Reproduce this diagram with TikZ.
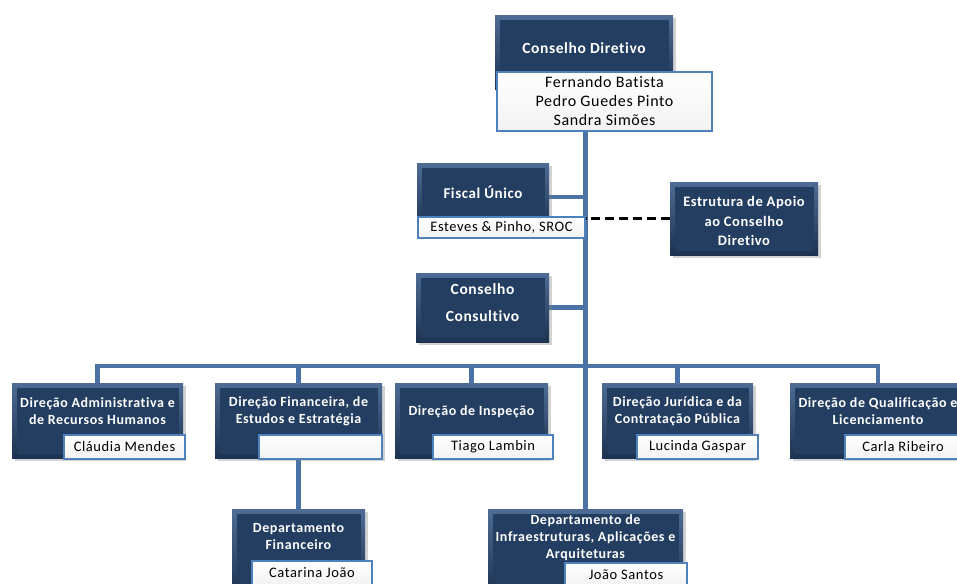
\documentclass[tikz,border=0pt]{standalone}
\usepackage{fontspec}
\setmainfont{Carlito}[LetterSpace=4,Ligatures=CommonOff]
\usetikzlibrary{shadows,backgrounds}
\definecolor{boxdark}{RGB}{35,62,96}
\definecolor{bevtop}{RGB}{78,108,148}
\definecolor{bevbot}{RGB}{28,50,80}
\definecolor{linkblue}{RGB}{74,114,166}
\definecolor{nameborder}{RGB}{79,129,189}
\tikzset{
  dbox/.style={rectangle, inner sep=0pt, draw=none, top color=bevtop, bottom color=bevbot,
    drop shadow={shadow xshift=2.5pt, shadow yshift=-2.5pt, opacity=.35},
    path picture={\fill[boxdark] ([shift={(4.5pt,4.5pt)}]path picture bounding box.south west)
      rectangle ([shift={(-4.5pt,-4.5pt)}]path picture bounding box.north east);}},
  dtext/.style={inner sep=0pt, text=white, align=center, font=\bfseries\fontsize{14}{17}\selectfont},
  nbox/.style={rectangle, inner sep=0pt, draw=nameborder, line width=1.3pt,
    top color=white, bottom color=gray!10, text=black, align=center,
    font=\fontsize{14.5}{19}\selectfont},
  link/.style={draw=linkblue, line width=4.5pt},
  dashlink/.style={draw=black, line width=3.5pt, dash pattern=on 9pt off 5pt}
}
\newcommand\orgbox[8]{%
  \node[dbox, minimum width={(#4-#2)*1pt}, minimum height={(#5-#3)*1pt}] (#1) at ({(#2+#4)/2},{(#3+#5)/2}) {};
  \node[dtext,#7] (#1-t) at ({(#2+#4)/2},#6) {#8};}
\newcommand\namebox[7]{%
  \node[nbox, minimum width={(#4-#2)*1pt}, minimum height={(#5-#3)*1pt},#6] (#1) at ({(#2+#4)/2},{(#3+#5)/2}) {#7};}
\begin{document}
\begin{tikzpicture}[x=1pt,y=-1pt]
\useasboundingbox (0,0) rectangle (957,583);
% top
\orgbox{cd}{495}{16}{673}{90}{48}{font=\bfseries\fontsize{15.5}{19}\selectfont}{Conselho Diretivo}
\namebox{cdn}{497}{72}{712}{131}{font=\fontsize{16}{19}\selectfont}{Fernando Batista\\Pedro Guedes Pinto\\Sandra Simões}
% fiscal
\orgbox{fiscal}{417}{163}{549}{231}{192}{font=\bfseries\fontsize{15}{19}\selectfont}{Fiscal Único}
\namebox{fiscaln}{418}{217}{585}{238}{}{Esteves \& Pinho, SROC}
% estrutura
\orgbox{estr}{670}{182}{818}{255}{221}{font=\bfseries\fontsize{14.5}{19.5}\selectfont}{Estrutura de Apoio\\ao Conselho\\Diretivo}
% consultivo
\orgbox{cons}{416}{273}{549}{342}{303}{font=\bfseries\fontsize{15.5}{27}\selectfont}{Conselho\\Consultivo}
% directions
\orgbox{d1}{12}{383}{183}{458}{411}{}{Direção Administrativa e\\de Recursos Humanos}
\namebox{d1n}{64}{435}{185}{459}{}{Cláudia Mendes}
\orgbox{d2}{215}{383}{382}{458}{411}{}{Direção Financeira, de\\Estudos e Estratégia}
\namebox{d2n}{259}{435}{382}{459}{}{}
\orgbox{d3}{395}{383}{548}{458}{412}{}{Direção de Inspeção}
\namebox{d3n}{433}{435}{553}{459}{}{Tiago Lambin}
\orgbox{d4}{602}{383}{753}{458}{411}{}{Direção Jurídica e da\\Contratação Pública}
\namebox{d4n}{637}{435}{758}{459}{}{Lucinda Gaspar}
\orgbox{d5}{790}{383}{966}{458}{411}{}{Direção de Qualificação e\\Licenciamento}
\namebox{d5n}{845}{435}{961}{459}{}{Carla Ribeiro}
% departments
\orgbox{dfin}{232}{509}{365}{595}{537}{}{Departamento\\Financeiro}
\namebox{dfinn}{252}{561}{372}{585}{}{Catarina João}
\orgbox{infra}{488}{509}{683}{595}{538}{}{Departamento de\\Infraestruturas, Aplicações e\\Arquiteturas}
\namebox{infran}{565}{563}{687}{586}{}{João Santos}
% connectors
\coordinate (bus) at (0,366);
\begin{pgfonlayer}{background}
\fill[white] (0,0) rectangle (957,583);
\draw[link] (infra.north) -- (infra.north |- cdn.south);
\draw[link] (fiscal.east) -- (fiscal.east -| infra.north);
\draw[link] (cons.east) -- (cons.east -| infra.north);
\draw[dashlink] (estr.west) -- (estr.west -| infra.north);
\draw[link] ([xshift=-2.25pt]d1.north |- bus) -- ([xshift=2.25pt]d5.north |- bus);
\draw[link] (d1.north) -- (d1.north |- bus);
\draw[link] (d2.north) -- (d2.north |- bus);
\draw[link] (d3.north) -- (d3.north |- bus);
\draw[link] (d4.north) -- (d4.north |- bus);
\draw[link] (d5.north) -- (d5.north |- bus);
\draw[link] (dfin.north) -- (dfin.north |- d2n.south);
\end{pgfonlayer}
\end{tikzpicture}
\end{document}
